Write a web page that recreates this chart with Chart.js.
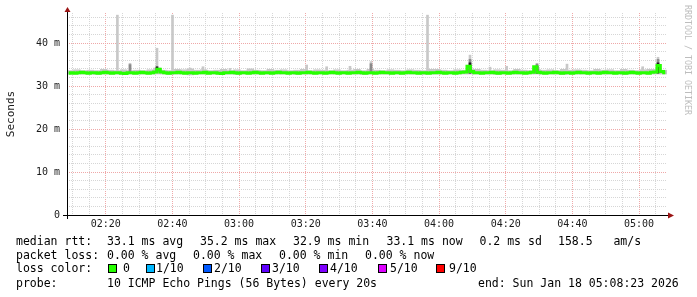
<!DOCTYPE html>
<html>
<head>
<meta charset="utf-8">
<script src="https://cdn.jsdelivr.net/npm/chart.js@4.4.1/dist/chart.umd.min.js"></script>
<style>
html, body { margin: 0; padding: 0; background: #fff; }
#wrap { position: relative; width: 697px; height: 297px; overflow: hidden; }
#wrap canvas { position: absolute; left: 0; top: 0; }
.t { position: absolute; font-family: "DejaVu Sans Mono", monospace; font-size: 11.5px; line-height: 14px; color: #000; white-space: pre; }
.sq { position: absolute; width: 9px; height: 9px; box-sizing: border-box; border: 1px solid #000; }
</style>
</head>
<body>
<div id="wrap"><canvas id="smoke" width="697" height="297"></canvas></div>
<script>
// graph window: 02:08:23 .. 05:08:23
const startClock = '02:08:23'
const endClock = '05:08:23'

// median rtt (ms), one value per minute
const medianRtt = [
  33.0, 33.1, 33.0, 33.1, 33.2, 33.1, 33.0, 33.1, 33.1, 33.0,
  33.1, 33.2, 33.1, 33.0, 33.1, 33.1, 33.0, 32.9, 33.1, 33.1,
  33.0, 33.1, 33.2, 33.1, 33.0, 33.1, 33.3, 33.9, 33.3, 33.1,
  33.0, 33.1, 33.1, 33.2, 33.1, 33.0, 33.1, 33.1, 33.0, 33.1,
  33.1, 33.2, 33.0, 33.1, 33.1, 33.0, 32.9, 33.1, 33.1, 33.2,
  33.1, 33.0, 33.1, 33.1, 33.0, 33.1, 33.2, 33.1, 33.0, 33.1,
  33.1, 33.0, 33.1, 33.2, 33.1, 33.1, 33.0, 33.1, 33.1, 33.0,
  33.1, 33.1, 33.2, 33.1, 33.0, 33.1, 33.1, 33.0, 33.1, 33.2,
  33.1, 33.0, 33.1, 33.1, 33.0, 33.1, 33.1, 33.2, 33.1, 33.0,
  33.1, 33.1, 33.0, 33.1, 33.2, 33.1, 33.1, 33.0, 33.1, 33.1,
  33.0, 33.1, 33.2, 33.1, 33.1, 33.0, 33.1, 33.1, 33.0, 33.1,
  33.1, 33.2, 33.1, 33.0, 33.1, 33.1, 33.0, 33.1, 33.2, 33.3,
  34.6, 33.4, 33.1, 33.1, 33.0, 33.1, 33.1, 33.2, 33.1, 33.0,
  33.1, 33.1, 33.0, 33.1, 33.2, 33.1, 33.1, 33.0, 33.1, 33.2,
  34.5, 33.2, 33.1, 33.0, 33.1, 33.1, 33.2, 33.1, 33.0, 33.1,
  33.1, 33.0, 33.1, 33.2, 33.1, 33.1, 33.0, 33.1, 33.1, 33.0,
  33.1, 33.2, 33.1, 33.1, 33.0, 33.1, 33.1, 33.0, 33.1, 33.2,
  33.1, 33.0, 33.1, 33.1, 33.0, 33.2, 33.3, 34.8, 33.4, 33.1
]

// smoke band (ms), one pair per two minutes
const smokeLow = [
  32.8, 32.8, 32.8, 32.8, 32.7, 32.8, 32.8, 32.8, 32.8, 32.8,
  32.8, 32.8, 32.8, 32.8, 32.8, 32.7, 32.8, 32.8, 32.6, 32.8,
  32.8, 32.8, 32.8, 32.8, 32.8, 32.7, 32.8, 32.8, 32.8, 32.8,
  32.8, 32.8, 32.8, 32.8, 32.7, 32.8, 32.8, 32.8, 32.8, 32.8,
  32.8, 32.8, 32.8, 32.8, 32.7, 32.8, 32.8, 32.8, 32.8, 32.8,
  32.8, 32.8, 32.8, 32.7, 32.8, 32.8, 32.8, 32.8, 32.8, 32.8,
  32.8, 32.8, 32.8, 32.8, 32.7, 32.8, 32.8, 32.8, 32.8, 32.8,
  32.8, 32.8, 32.8, 32.8, 32.7, 32.8, 32.8, 32.8, 32.8, 32.8,
  32.8, 32.8, 32.8, 32.7, 32.8, 32.8, 32.8, 32.8, 32.8, 32.8
]
const smokeHigh = [
  33.6, 33.8, 33.6, 33.7, 33.6, 33.9, 33.7, 33.6, 33.8, 33.6,
  33.7, 33.6, 33.8, 34.2, 33.7, 33.6, 33.9, 33.8, 34.0, 33.7,
  33.8, 33.6, 33.7, 33.9, 33.6, 33.8, 33.6, 34.0, 33.7, 33.6,
  33.9, 33.7, 33.8, 33.6, 33.7, 33.9, 33.6, 33.8, 33.7, 33.6,
  33.8, 33.6, 33.7, 33.9, 33.6, 33.9, 33.7, 33.6, 33.8, 33.7,
  33.6, 33.8, 33.7, 33.6, 33.9, 33.9, 33.7, 33.6, 33.8, 33.7,
  34.0, 33.9, 33.7, 33.6, 33.8, 33.7, 33.6, 33.9, 33.7, 33.6,
  33.9, 33.7, 33.8, 33.6, 33.9, 33.7, 33.8, 33.7, 33.6, 33.9,
  33.7, 33.8, 33.6, 33.9, 33.7, 33.6, 33.8, 33.9, 33.9, 33.7
]

// single outlier pings (light smoke)
const spikeTimes = ['02:23:30', '02:27:17', '02:35:23', '02:40:02', '02:45:17', '02:49:11', '02:57:17',
  '03:20:17', '03:26:17', '03:33:17', '03:39:35', '03:56:32', '04:09:17', '04:15:17', '04:20:17',
  '04:29:23', '04:38:23', '05:01:05', '05:05:41']
const spikeBase = [33.3, 33.3, 33.3, 33.3, 33.3, 33.3, 33.3, 33.3, 33.3, 33.3, 33.3, 33.3, 33.3, 33.3, 33.3,
  33.3, 33.3, 33.3, 33.3]
const spikeTop = [46.5, 35.3, 38.8, 46.5, 34.2, 34.5, 34.1, 34.9, 34.5, 34.6, 35.7, 46.5, 37.2, 34.4, 34.6,
  35.3, 35.1, 34.5, 36.7]

// denser smoke near the spikes
const midTimes = ['02:27:17', '03:39:35', '04:09:17', '04:29:23', '05:05:41']
const midLow = [33.4, 33.4, 33.3, 33.3, 33.3]
const midHigh = [35.0, 35.2, 36.2, 35.1, 36.2]
const darkTimes = ['02:35:23', '04:09:17', '04:29:23', '05:05:41']
const darkLow = [33.3, 33.0, 33.0, 33.0]
const darkHigh = [34.5, 35.4, 34.6, 35.4]

const yLabels = [0, 10, 20, 30, 40]
const xLabels = ['02:20', '02:40', '03:00', '03:20', '03:40', '04:00', '04:20', '04:40', '05:00']

const rttStats = ['33.1 ms avg', '35.2 ms max', '32.9 ms min', '33.1 ms now', '0.2 ms sd', '158.5   am/s']
const lossStats = ['0.00 % avg', '0.00 % max', '0.00 % min', '0.00 % now']
const lossLabels = ['0', '1/10', '2/10', '3/10', '4/10', '5/10', '9/10']
const lossColors = ['#26ff00', '#00b8ff', '#0059ff', '#5e00ff', '#7e00ff', '#dd00ff', '#ff0000']
const probeText = '10 ICMP Echo Pings (56 Bytes) every 20s'
const endText = 'end: Sun Jan 18 05:08:23 2026'

function minutes(s) {
  const p = s.split(':').map(Number)
  return p[0] * 60 + p[1] + (p[2] || 0) / 60
}

const t0 = minutes(startClock)
const t1 = minutes(endClock)
const mono = '"DejaVu Sans Mono", monospace'

const frame = {
  id: 'frame',
  afterDraw(chart) {
    const ctx = chart.ctx
    const a = chart.chartArea
    const x = chart.scales.x
    const y = chart.scales.y
    ctx.save()
    ctx.strokeStyle = '#000'
    ctx.lineWidth = 1
    ctx.beginPath()
    ctx.moveTo(a.left - 4, a.bottom + 0.5)
    ctx.lineTo(a.right + 2, a.bottom + 0.5)
    ctx.moveTo(a.left + 0.5, a.bottom + 4)
    ctx.lineTo(a.left + 0.5, a.top - 4)
    ctx.stroke()

    ctx.fillStyle = '#9b1414'
    ctx.beginPath()
    ctx.moveTo(a.left - 2.5, a.top - 1)
    ctx.lineTo(a.left + 3.5, a.top - 1)
    ctx.lineTo(a.left + 0.5, a.top - 6)
    ctx.closePath()
    ctx.fill()
    ctx.beginPath()
    ctx.moveTo(a.right + 1, a.bottom - 2.5)
    ctx.lineTo(a.right + 1, a.bottom + 3.5)
    ctx.lineTo(a.right + 7, a.bottom + 0.5)
    ctx.closePath()
    ctx.fill()

    ctx.fillStyle = '#1a1a1a'
    ctx.font = '10px ' + mono
    ctx.textBaseline = 'middle'
    ctx.textAlign = 'right'
    yLabels.forEach(v => ctx.fillText(v === 0 ? '0' : v + ' m', 60, y.getPixelForValue(v)))
    ctx.textAlign = 'center'
    xLabels.forEach(l => ctx.fillText(l, x.getPixelForValue(minutes(l)), a.bottom + 9))

    ctx.font = '11px ' + mono
    ctx.translate(11, 114)
    ctx.rotate(-Math.PI / 2)
    ctx.fillText('Seconds', 0, 0)
    ctx.restore()

    ctx.save()
    ctx.fillStyle = '#bdbdbd'
    ctx.font = '8.3px ' + mono
    ctx.translate(687, 5)
    ctx.rotate(Math.PI / 2)
    ctx.textAlign = 'left'
    ctx.textBaseline = 'middle'
    ctx.fillText('RRDTOOL / TOBI OETIKER', 0, 0)
    ctx.restore()
  }
}

const minorX = []
for (let m = Math.ceil(t0 / 5) * 5; m < t1; m += 5) minorX.push(m)
const minorY = []
for (let v = 0; v <= 46; v += 2) minorY.push(v)

const ctx = document.getElementById('smoke')
new Chart(ctx, {
  type: 'bar',
  data: {
    datasets: [
      {
        type: 'line',
        label: 'median',
        data: medianRtt.map((v, i) => ({x: t0 + i + 0.5, y: v})),
        borderColor: '#26ff00',
        borderWidth: 3,
        pointRadius: 0,
        stepped: 'middle',
        order: 0
      },
      {
        label: 'dark',
        data: darkTimes.map((t, i) => ({x: minutes(t), y: [darkLow[i], darkHigh[i]]})),
        backgroundColor: '#1c1c1c',
        barThickness: 2,
        grouped: false,
        order: 1
      },
      {
        label: 'mid',
        data: midTimes.map((t, i) => ({x: minutes(t), y: [midLow[i], midHigh[i]]})),
        backgroundColor: '#8a8a8a',
        barThickness: 2,
        grouped: false,
        order: 2
      },
      {
        label: 'spikes',
        data: spikeTimes.map((t, i) => ({x: minutes(t), y: [spikeBase[i], spikeTop[i]]})),
        backgroundColor: '#c8c8c8',
        barThickness: 2,
        grouped: false,
        order: 3
      },
      {
        label: 'smoke',
        data: smokeLow.map((v, i) => ({x: t0 + 2 * i + 1, y: [v, smokeHigh[i]]})),
        backgroundColor: '#c6c6c6',
        barThickness: 6.7,
        grouped: false,
        order: 4
      }
    ]
  },
  options: {
    responsive: false,
    animation: false,
    events: [],
    layout: {padding: {left: 67, top: 13, right: 30, bottom: 82}},
    plugins: {legend: {display: false}, tooltip: {enabled: false}},
    scales: {
      x: {
        type: 'linear',
        min: t0,
        max: t1,
        offset: false,
        afterBuildTicks: s => { s.ticks = minorX.map(v => ({value: v})) },
        afterFit: s => { s.height = 0 },
        ticks: {display: false},
        border: {display: false, dash: [1, 1]},
        grid: {
          offset: false,
          drawTicks: false,
          color: c => (c.tick && Math.round(c.tick.value) % 20 === 0) ? '#efa8a8' : '#d6d6d6'
        }
      },
      y: {
        min: 0,
        max: 47,
        afterBuildTicks: s => { s.ticks = minorY.map(v => ({value: v})) },
        afterFit: s => { s.width = 0 },
        ticks: {display: false},
        border: {display: false, dash: [1, 1]},
        grid: {
          drawTicks: false,
          color: c => (c.tick && c.tick.value % 10 === 0) ? '#efa8a8' : '#d6d6d6'
        }
      }
    }
  },
  plugins: [frame]
})

// text legend under the graph
const wrap = document.getElementById('wrap')
function put(txt, left, top) {
  const d = document.createElement('div')
  d.className = 't'
  d.textContent = txt
  d.style.left = left + 'px'
  d.style.top = top + 'px'
  wrap.appendChild(d)
}
put('median rtt:', 16, 234)
const rttX = [107, 200, 293, 386.5, 479.5, 558]
rttStats.forEach((s, i) => put(s, rttX[i], 234))
put('packet loss:', 16, 248)
const lossX = [107, 193, 279, 365]
lossStats.forEach((s, i) => put(s, lossX[i], 248))
put('loss color:', 16, 261)
const sqX = [108, 146, 203, 261, 319, 378, 436]
const lblX = [123, 156, 214, 272, 330, 390, 449]
lossLabels.forEach((l, i) => {
  const q = document.createElement('div')
  q.className = 'sq'
  q.style.left = sqX[i] + 'px'
  q.style.top = '264px'
  q.style.background = lossColors[i]
  wrap.appendChild(q)
  put(l, lblX[i], 261)
})
put('probe:', 16, 276)
put(probeText, 107, 276)
put(endText, 478, 276)
</script>
</body>
</html>
